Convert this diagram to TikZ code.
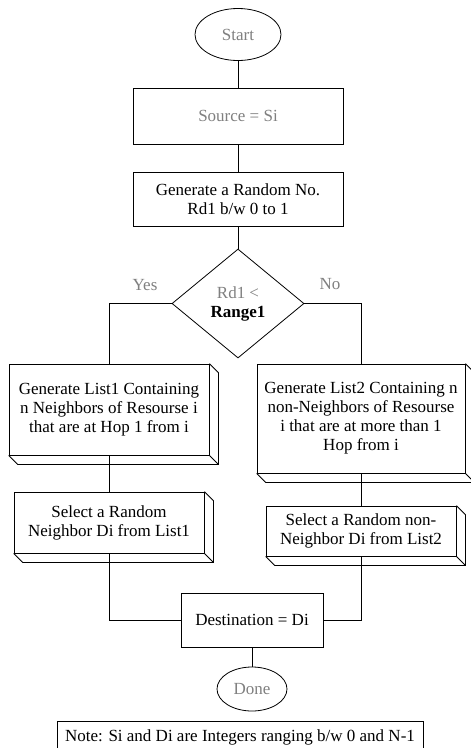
\documentclass[tikz,border=0pt]{standalone}
\usepackage{fontspec}
\setmainfont{Liberation Serif}
\usetikzlibrary{shapes.geometric,calc}
\definecolor{txtgray}{gray}{0.5}
\tikzset{
  every node/.style={font=\fontsize{17}{19}\selectfont, align=center, inner sep=0pt},
  flat/.style={draw, line width=0.8pt, rectangle},
  solid3d/.style={draw, line width=0.8pt, rectangle, fill=white},
  term/.style={draw, line width=0.8pt, ellipse},
  conn/.style={line width=0.8pt},
  lbl/.style={text=txtgray}
}
\begin{document}
\begin{tikzpicture}[x=1pt,y=-1pt]
\useasboundingbox (0,0) rectangle (471,748);
\fill[white] (0,0) rectangle (471,748);

\node[term, minimum width=86pt, minimum height=52pt, text=txtgray] (start) at (238,34.5) {Start};
\node[flat, minimum width=210pt, minimum height=56pt, text=txtgray] (source) at (238,116) {Source = Si};
\node[flat, minimum width=210pt, minimum height=54pt] (gen) at (238,199) {Generate a Random No.\\Rd1 b/w 0 to 1};
\node[draw, line width=0.8pt, diamond, minimum width=132pt, minimum height=109pt, shape aspect=1.21] (dec) at (238,303.5) {\textcolor{txtgray}{Rd1 <}\\\textbf{Range1}};

\node[solid3d, minimum width=200pt, minimum height=91pt] (l1) at (109,409.5) {Generate List1 Containing\\n Neighbors of Resourse i\\that are at Hop 1 from i};
\node[solid3d, minimum width=208pt, minimum height=109pt] (r1) at (361,418.5) {Generate List2 Containing n\\non-Neighbors of Resourse\\i that are at more than 1\\Hop from i};
\node[solid3d, minimum width=190pt, minimum height=61pt] (l2) at (109,522.5) {Select a Random\\Neighbor Di from List1};
\node[solid3d, minimum width=190pt, minimum height=50pt] (r2) at (361,531) {Select a Random non-\\Neighbor Di from List2};

\node[flat, minimum width=142pt, minimum height=54pt] (dest) at (252,620) {Destination = Di};
\node[term, minimum width=70pt, minimum height=44pt, text=txtgray] (done) at (252,689) {Done};
\node[flat, minimum width=366pt, minimum height=32pt] (note) at (240,737) {Note: Si and Di are Integers ranging b/w 0 and N-1};

% 3D extrusions
\foreach \n in {l1,r1,l2,r2}{
  \draw[conn, line join=miter] (\n.north east) -- ++(9,9) -- ($(\n.south east)+(9,9)$) -- ($(\n.south west)+(9,9)$) -- (\n.south west);
  \draw[conn] (\n.south east) -- ++(9,9);
}

% connectors
\draw[conn] (start) -- (source);
\draw[conn] (source) -- (gen);
\draw[conn] (gen) -- (dec);
\draw[conn] (dec.west) -| (l1.north);
\draw[conn] (dec.east) -| (r1.north);
\draw[conn] (l1.south) -- (l2.north);
\draw[conn] (r1.south) -- (r2.north);
\draw[conn] (l2.south) |- (dest.west);
\draw[conn] (r2.south) |- (dest.east);
\draw[conn] (dest) -- (done);

\node[lbl] (yes) at (145,285) {Yes};
\node[lbl] (no) at (330,284) {No};
\end{tikzpicture}
\end{document}
